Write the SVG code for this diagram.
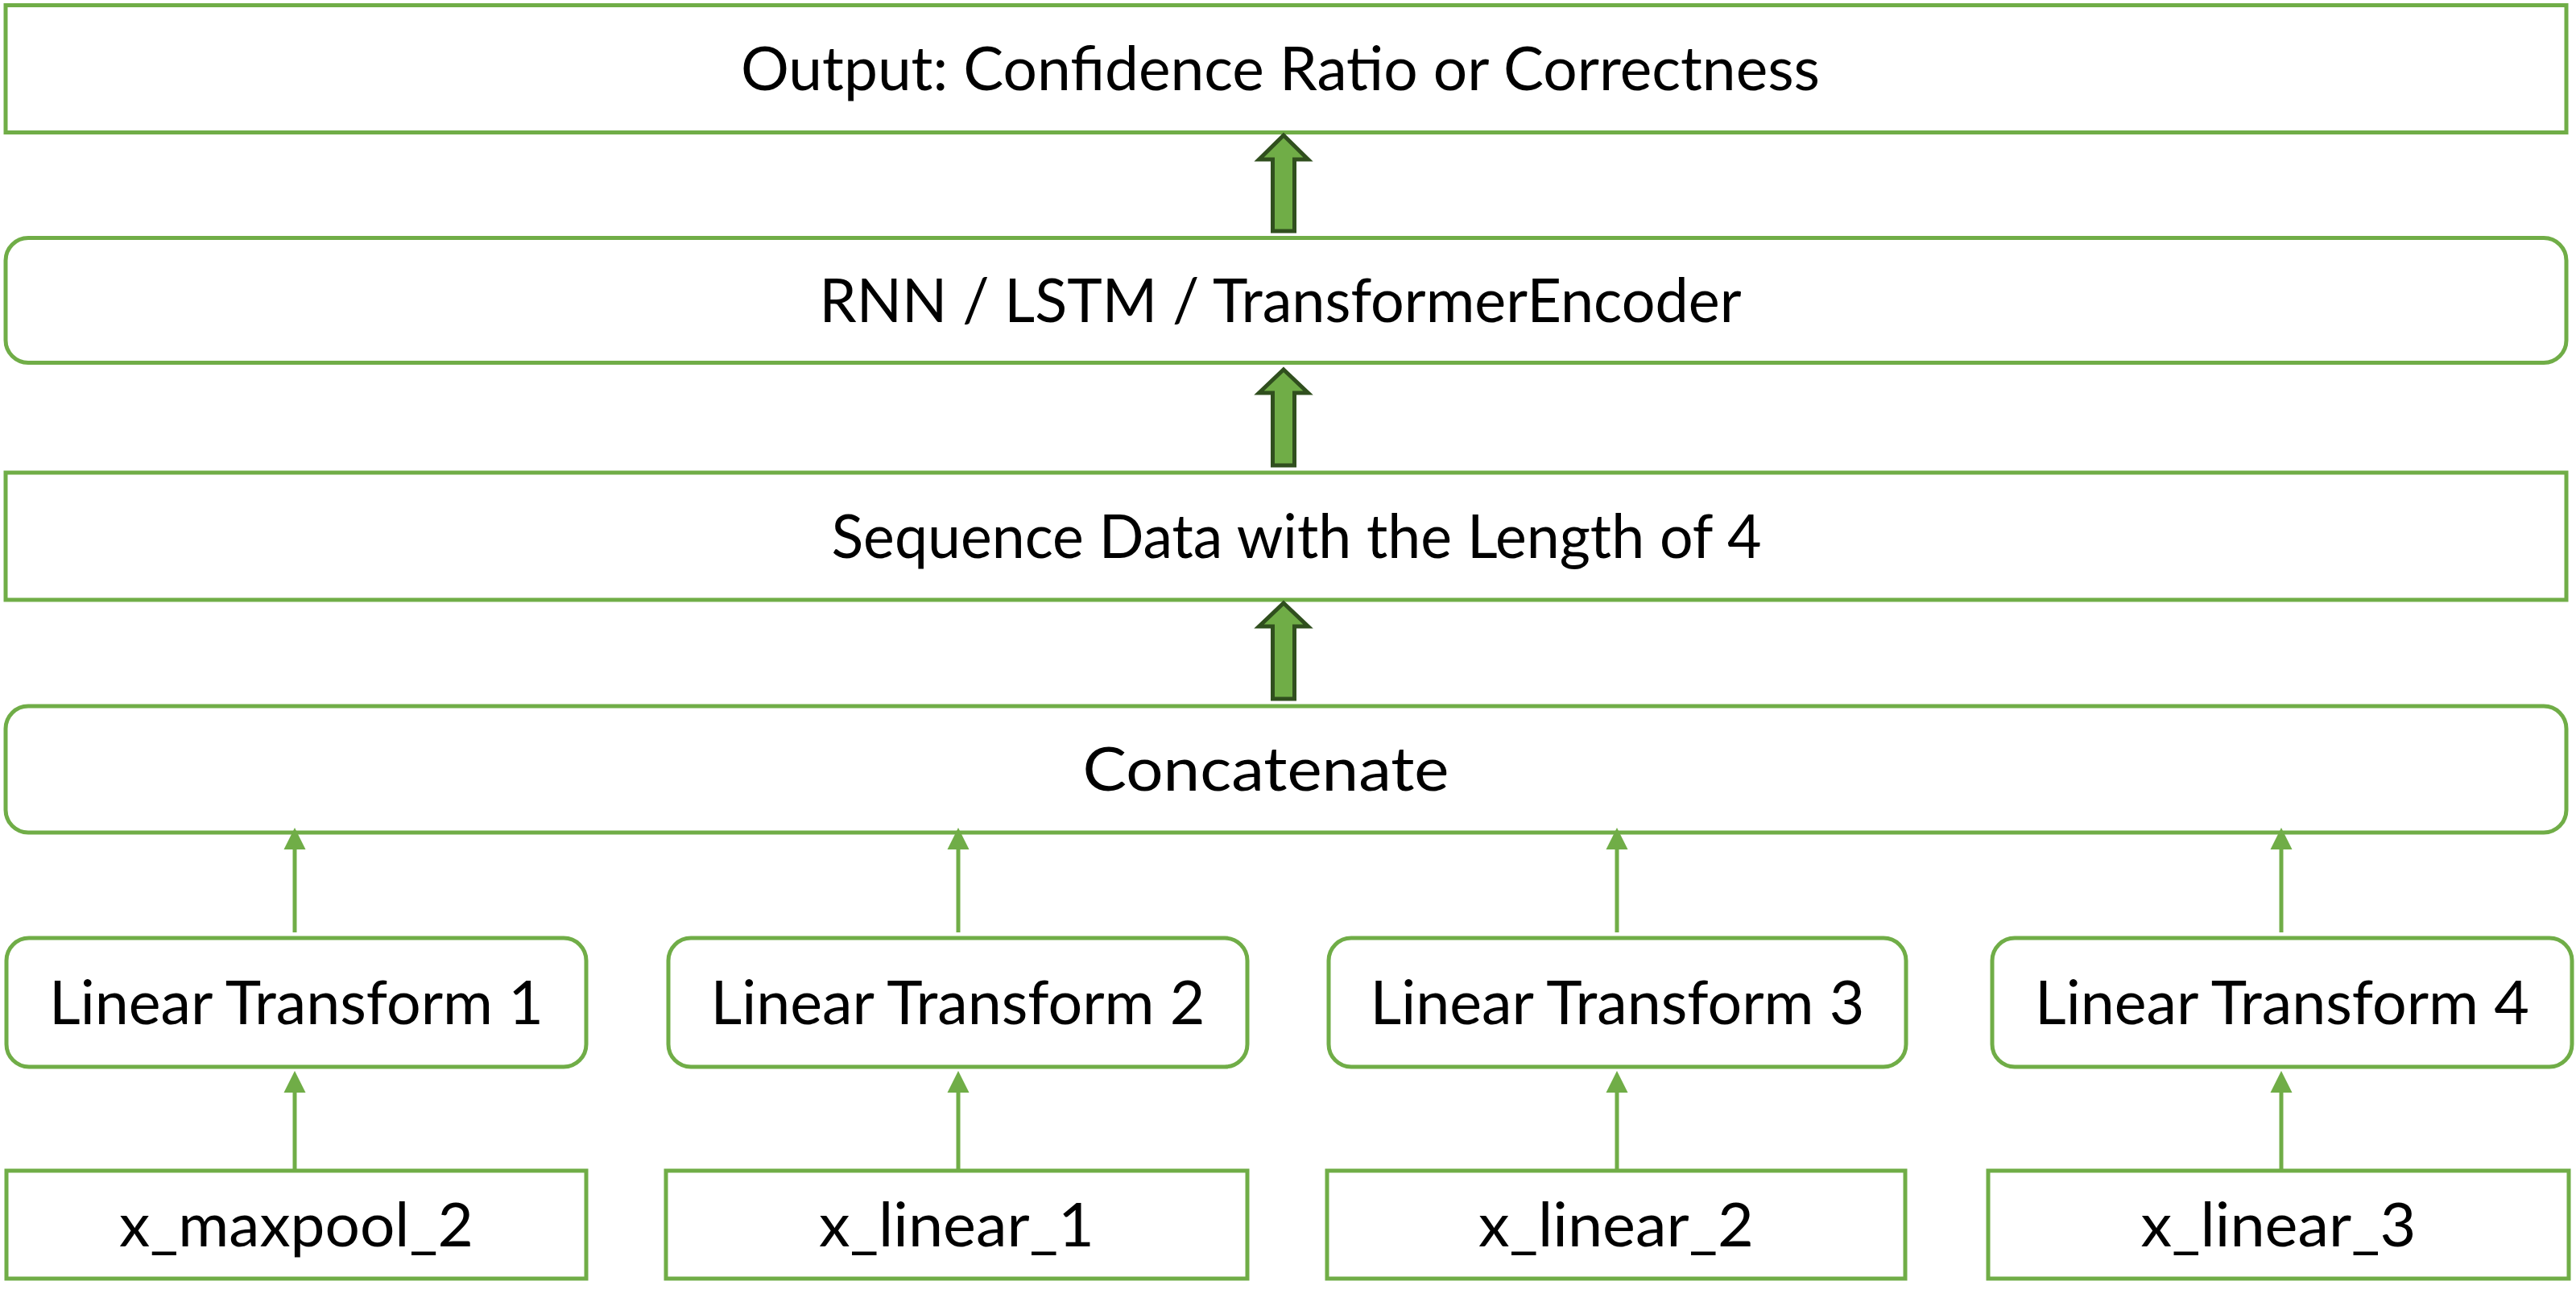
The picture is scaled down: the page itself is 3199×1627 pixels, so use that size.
<svg xmlns="http://www.w3.org/2000/svg" width="3199" height="1627" viewBox="0 0 3199 1627">
<style>
.box{fill:#FFFFFF;stroke:#70AD47;stroke-width:5}
.lbl{font-family:Lato,"Open Sans","Liberation Sans",sans-serif;font-size:76px;fill:#000000;text-anchor:middle}
.con{stroke:#70AD47;stroke-width:5;fill:none}
.blk{fill:#70AD47;stroke:#304F1E;stroke-width:5;stroke-linejoin:miter}
</style>
<defs>
<marker id="ah" markerUnits="userSpaceOnUse" markerWidth="28" markerHeight="28" refX="2" refY="13.5" orient="auto" viewBox="0 0 28 27">
<path d="M0,0 L27,13.5 L0,27 z" fill="#70AD47"/>
</marker>
</defs>
<rect x="0" y="0" width="3199" height="1627" fill="#FFFFFF"/>

<g id="output">
<rect class="box" x="7" y="6.5" width="3180" height="158"/>
<text class="lbl" x="1590" y="112" textLength="1340" lengthAdjust="spacingAndGlyphs">Output: Confidence Ratio or Correctness</text>
</g>
<g id="rnn">
<rect class="box" x="7" y="295.5" width="3180" height="155" rx="28" ry="28"/>
<text class="lbl" x="1590" y="400" textLength="1145" lengthAdjust="spacingAndGlyphs">RNN / LSTM / TransformerEncoder</text>
</g>
<g id="sequence">
<rect class="box" x="7" y="587" width="3180" height="158"/>
<text class="lbl" x="1610" y="693" textLength="1155" lengthAdjust="spacingAndGlyphs">Sequence Data with the Length of 4</text>
</g>
<g id="concatenate">
<rect class="box" x="7" y="877" width="3180" height="157" rx="28" ry="28"/>
<text class="lbl" x="1572" y="982" textLength="455" lengthAdjust="spacingAndGlyphs">Concatenate</text>
</g>

<g id="lt1">
<rect class="box" x="8" y="1165" width="720" height="160" rx="28" ry="28"/>
<text class="lbl" x="368" y="1272" textLength="614" lengthAdjust="spacingAndGlyphs">Linear Transform 1</text>
</g>
<g id="lt2">
<rect class="box" x="830" y="1165" width="719" height="160" rx="28" ry="28"/>
<text class="lbl" x="1189.5" y="1272" textLength="614" lengthAdjust="spacingAndGlyphs">Linear Transform 2</text>
</g>
<g id="lt3">
<rect class="box" x="1650" y="1165" width="717" height="160" rx="28" ry="28"/>
<text class="lbl" x="2008.5" y="1272" textLength="614" lengthAdjust="spacingAndGlyphs">Linear Transform 3</text>
</g>
<g id="lt4">
<rect class="box" x="2474" y="1165" width="720" height="160" rx="28" ry="28"/>
<text class="lbl" x="2834" y="1272" textLength="614" lengthAdjust="spacingAndGlyphs">Linear Transform 4</text>
</g>

<g id="x_maxpool_2">
<rect class="box" x="8" y="1454" width="720" height="134"/>
<text class="lbl" x="368" y="1548" textLength="440" lengthAdjust="spacingAndGlyphs">x_maxpool_2</text>
</g>
<g id="x_linear_1">
<rect class="box" x="827" y="1454" width="722" height="134"/>
<text class="lbl" x="1188" y="1548" textLength="342" lengthAdjust="spacingAndGlyphs">x_linear_1</text>
</g>
<g id="x_linear_2">
<rect class="box" x="1648" y="1454" width="718" height="134"/>
<text class="lbl" x="2007" y="1548" textLength="342" lengthAdjust="spacingAndGlyphs">x_linear_2</text>
</g>
<g id="x_linear_3">
<rect class="box" x="2469" y="1454" width="721" height="134"/>
<text class="lbl" x="2829.5" y="1548" textLength="342" lengthAdjust="spacingAndGlyphs">x_linear_3</text>
</g>

<g id="connectors">
<path class="con" d="M366,1158 L366,1053" marker-end="url(#ah)"/>
<path class="con" d="M1190,1158 L1190,1053" marker-end="url(#ah)"/>
<path class="con" d="M2008,1158 L2008,1053" marker-end="url(#ah)"/>
<path class="con" d="M2833,1158 L2833,1053" marker-end="url(#ah)"/>
<path class="con" d="M366,1454 L366,1355" marker-end="url(#ah)"/>
<path class="con" d="M1190,1454 L1190,1355" marker-end="url(#ah)"/>
<path class="con" d="M2008,1454 L2008,1355" marker-end="url(#ah)"/>
<path class="con" d="M2833,1454 L2833,1355" marker-end="url(#ah)"/>
<path class="blk" d="M1594,168 L1624.5,198 L1607.5,198 L1607.5,287 L1580.5,287 L1580.5,198 L1563.5,198 Z"/>
<path class="blk" d="M1594,459 L1624.5,488 L1607.5,488 L1607.5,578 L1580.5,578 L1580.5,488 L1563.5,488 Z"/>
<path class="blk" d="M1594,749 L1624.5,778 L1607.5,778 L1607.5,868 L1580.5,868 L1580.5,778 L1563.5,778 Z"/>
</g>
</svg>
